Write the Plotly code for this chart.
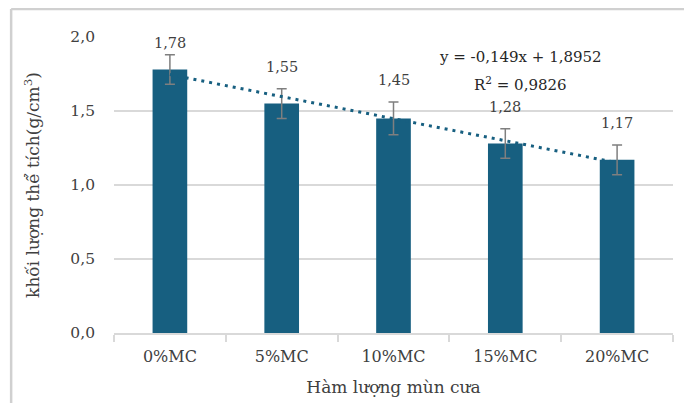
import plotly.graph_objects as go

categories = ["0%MC", "5%MC", "10%MC", "15%MC", "20%MC"]
values = [1.78, 1.55, 1.45, 1.28, 1.17]
errors = [0.10, 0.10, 0.11, 0.10, 0.10]
label_texts = ["1,78", "1,55", "1,45", "1,28", "1,17"]
slope = -0.149
intercept = 1.8952
y_ticks = [0.0, 0.5, 1.0, 1.5, 2.0]
y_tick_labels = ["0,0", "0,5", "1,0", "1,5", "2,0"]
eq_text = "y = -0,149x + 1,8952"
r2_text = "R<sup>2</sup> = 0,9826"

BAR = "#175f80"
FONT = "DejaVu Serif"

fig = go.Figure()
fig.add_trace(go.Bar(
    x=categories, y=values, marker=dict(color=BAR, line=dict(width=0)),
    error_y=dict(type="data", array=errors, visible=True, color="#7f7f7f",
                 thickness=1.5, width=5),
    showlegend=False, hoverinfo="skip",
))

trend_y = [slope * (i + 1) + intercept for i in range(len(categories))]
fig.add_trace(go.Scatter(
    x=categories, y=trend_y, mode="lines",
    line=dict(color=BAR, width=3, dash="3px,5px"),
    showlegend=False, hoverinfo="skip",
))

for c, v, e, t in zip(categories, values, errors, label_texts):
    ly = min(v + e + 0.15, 1.96)
    fig.add_annotation(x=c, y=ly, text=t, showarrow=False, yanchor="middle",
                       xanchor="center",
                       font=dict(family=FONT, size=14.5, color="#404040"))

fig.add_annotation(xref="paper", yref="paper", x=0.728, y=0.932, text=eq_text,
                   showarrow=False, xanchor="center", yanchor="middle",
                   font=dict(family=FONT, size=15, color="#262626"))
fig.add_annotation(xref="paper", yref="paper", x=0.727, y=0.841, text=r2_text,
                   showarrow=False, xanchor="center", yanchor="middle",
                   font=dict(family=FONT, size=15, color="#262626"))

fig.add_shape(type="line", xref="paper", yref="paper",
              x0=-0.184, x1=1.2, y0=1.095, y1=1.095,
              line=dict(color="#d0d0d0", width=2.5))
fig.add_shape(type="line", xref="paper", yref="paper",
              x0=-0.184, x1=-0.184, y0=1.095, y1=-0.4,
              line=dict(color="#d0d0d0", width=2.5))

fig.update_layout(
    width=684, height=395,
    margin=dict(l=106, r=19, t=29, b=70),
    paper_bgcolor="white", plot_bgcolor="white",
    bargap=0.69,
    font=dict(family=FONT, size=15, color="#404040"),
    xaxis=dict(
        type="category", showgrid=False, showline=True, linecolor="#d9d9d9",
        linewidth=1.5, ticks="outside", tickson="boundaries", ticklen=7,
        tickcolor="#d9d9d9", tickwidth=1.5, ticklabelstandoff=8,
        tickfont=dict(family=FONT, size=16, color="#404040"),
        title=dict(text="Hàm lượng mùn cưa", standoff=16,
                   font=dict(family=FONT, size=17, color="#404040")),
        automargin=False,
    ),
    yaxis=dict(
        range=[0, 2.0], tickvals=y_ticks, ticktext=y_tick_labels,
        showgrid=True, gridcolor="#d9d9d9", gridwidth=1.5, zeroline=False,
        showline=False, ticks="", ticklabelstandoff=18,
        tickfont=dict(family=FONT, size=15.5, color="#404040"),
        title=dict(text="khối lượng thể tích(g/cm<sup>3</sup>)", standoff=26,
                   font=dict(family=FONT, size=17, color="#404040")),
        automargin=False,
    ),
)

fig.write_html("out.html")
